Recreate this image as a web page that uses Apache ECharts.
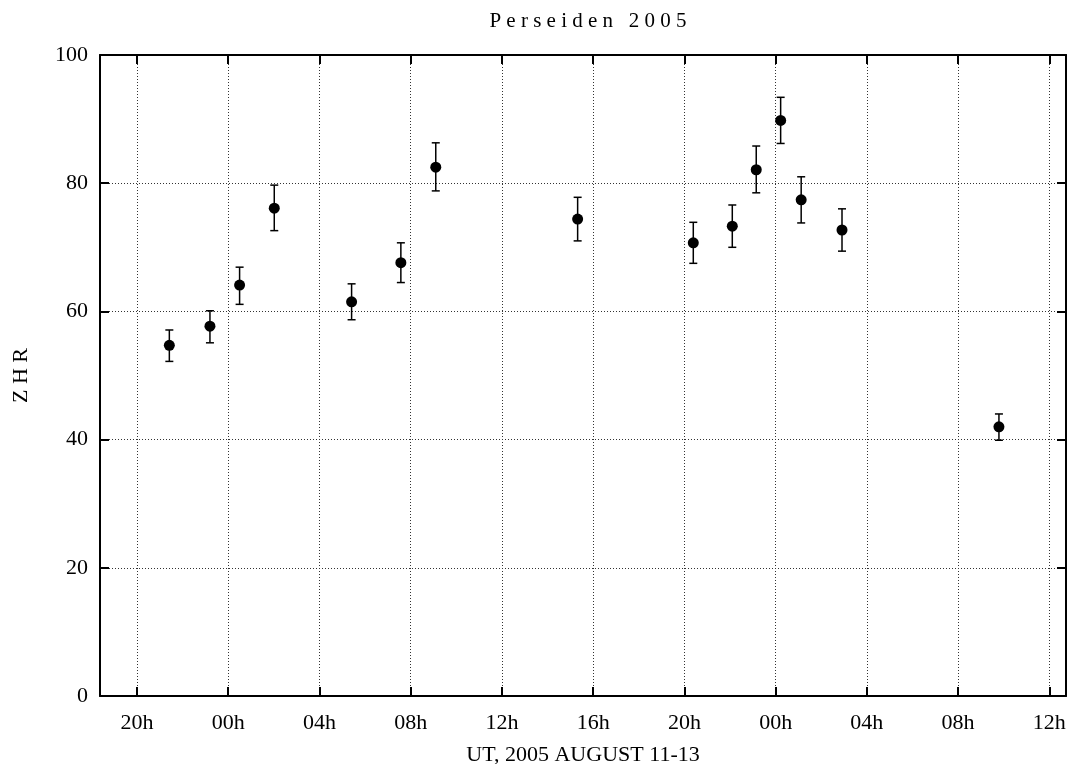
<!DOCTYPE html>
<html>
<head>
<meta charset="utf-8">
<script src="https://cdn.jsdelivr.net/npm/echarts@6/dist/echarts.min.js"></script>
<style>
  html, body { margin: 0; padding: 0; background: #fff; }
  #chart { width: 1068px; height: 764px; }
</style>
</head>
<body>
<div id="chart"></div>
<script>
// hours counted from 2005 Aug 11 00h UT
const hours  = [21.42, 23.20, 24.50, 26.02, 29.41, 31.57, 33.10, 39.32, 44.39, 46.10, 47.15, 48.22, 49.12, 50.91, 57.79];
const zhr    = [54.7, 57.7, 64.1, 76.1, 61.5, 67.6, 82.5, 74.4, 70.7, 73.3, 82.1, 89.8, 77.4, 72.7, 42.0];
const zhrLow = [52.2, 55.1, 61.1, 72.6, 58.7, 64.5, 78.8, 71.0, 67.5, 70.0, 78.5, 86.2, 73.8, 69.4, 39.9];
const zhrHigh= [57.1, 60.1, 66.9, 79.7, 64.3, 70.7, 86.3, 77.8, 73.9, 76.6, 85.8, 93.4, 81.0, 76.0, 44.0];
const xTicks = [20, 24, 28, 32, 36, 40, 44, 48, 52, 56, 60];

const font = 'Liberation Serif';

function hourLabel(v) {
  let h = ((Math.round(v) % 24) + 24) % 24;
  return (h < 10 ? '0' : '') + h + 'h';
}

let myChart = echarts.init(document.getElementById('chart'));

let points = hours.map((h, i) => [h, zhr[i]]);
let bars = hours.map((h, i) => [h, zhrLow[i], zhrHigh[i]]);

let splitLine = { show: true, lineStyle: { color: '#333', width: 1, type: [1, 2] } };

let option = {
  animation: false,
  backgroundColor: '#fff',
  title: {
    text: 'P e r s e i d e n   2 0 0 5',
    left: 583,
    textAlign: 'center',
    top: 6,
    textStyle: { fontFamily: font, fontSize: 21, fontWeight: 'normal', color: '#000' }
  },
  grid: { left: 100, right: 2, top: 55, bottom: 68, outerBoundsMode: 'none', containLabel: false },
  xAxis: [
    {
      type: 'value', min: 18.38, max: 60.73,
      name: 'UT, 2005 AUGUST 11-13',
      nameLocation: 'middle', nameGap: 48,
      nameTextStyle: { fontFamily: font, fontSize: 22, color: '#000' },
      axisLine: { show: true, onZero: false, lineStyle: { color: '#000', width: 2 } },
      axisTick: { show: true, inside: true, length: 9, customValues: xTicks, lineStyle: { color: '#000', width: 2 } },
      axisLabel: { customValues: xTicks, formatter: hourLabel, margin: 16,
        fontFamily: font, fontSize: 22, color: '#000' },
      splitLine: splitLine
    },
    {
      type: 'value', position: 'top', min: 18.38, max: 60.73,
      axisLine: { show: true, onZero: false, lineStyle: { color: '#000', width: 2 } },
      axisTick: { show: true, inside: true, length: 9, customValues: xTicks, lineStyle: { color: '#000', width: 2 } },
      axisLabel: { show: false },
      splitLine: { show: false }
    }
  ],
  yAxis: [
    {
      type: 'value', min: 0, max: 100, interval: 20,
      name: 'Z H R', nameLocation: 'middle', nameGap: 68, nameRotate: 90,
      nameTextStyle: { fontFamily: font, fontSize: 22, color: '#000' },
      axisLine: { show: true, onZero: false, lineStyle: { color: '#000', width: 2 } },
      axisTick: { show: true, inside: true, length: 9, lineStyle: { color: '#000', width: 2 } },
      axisLabel: { margin: 12, fontFamily: font, fontSize: 22, color: '#000' },
      splitLine: splitLine
    },
    {
      type: 'value', position: 'right', min: 0, max: 100, interval: 20,
      axisLine: { show: true, onZero: false, lineStyle: { color: '#000', width: 2 } },
      axisTick: { show: true, inside: true, length: 9, lineStyle: { color: '#000', width: 2 } },
      axisLabel: { show: false },
      splitLine: { show: false }
    }
  ],
  series: [
    {
      name: 'err',
      type: 'custom',
      data: bars,
      renderItem: function (params, api) {
        let x = api.value(0);
        let lo = api.coord([x, api.value(1)]);
        let hi = api.coord([x, api.value(2)]);
        let cap = 4;
        let style = { stroke: '#000', lineWidth: 1.5 };
        return {
          type: 'group',
          children: [
            { type: 'line', shape: { x1: lo[0], y1: lo[1], x2: hi[0], y2: hi[1] }, style: style },
            { type: 'line', shape: { x1: lo[0] - cap, y1: lo[1], x2: lo[0] + cap, y2: lo[1] }, style: style },
            { type: 'line', shape: { x1: hi[0] - cap, y1: hi[1], x2: hi[0] + cap, y2: hi[1] }, style: style }
          ]
        };
      },
      z: 2
    },
    {
      name: 'ZHR',
      type: 'scatter',
      data: points,
      symbol: 'circle',
      symbolSize: 11,
      itemStyle: { color: '#000', opacity: 1 },
      z: 3
    }
  ]
};

myChart.setOption(option);
</script>
</body>
</html>
